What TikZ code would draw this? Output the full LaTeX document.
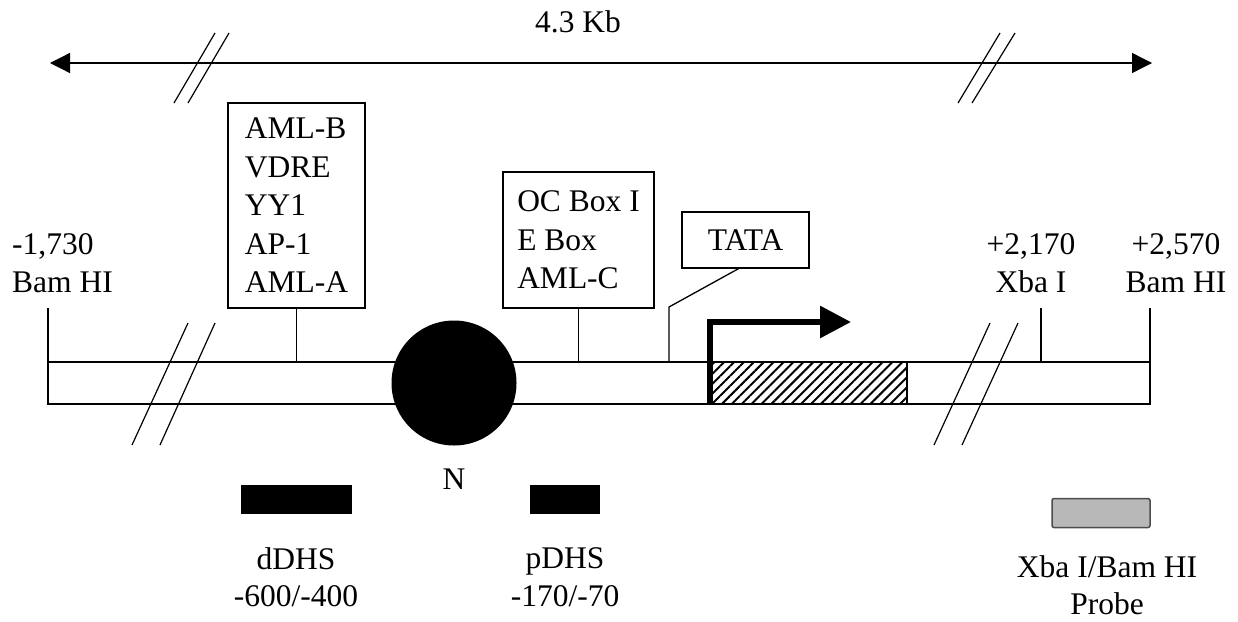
\documentclass[tikz,border=0pt]{standalone}
\usepackage{fontspec}
\setmainfont{Liberation Serif}
\usetikzlibrary{patterns.meta,arrows.meta}
\begin{document}
\begin{tikzpicture}[x=1pt,y=-1pt,
  ln/.style={line width=1.3pt},
  txt/.style={font=\fontsize{31.5}{37.5}\selectfont, inner sep=0pt, align=center},
  fbox/.style={draw, line width=1.3pt, font=\fontsize{31.5}{38.5}\selectfont, align=left, inner sep=0pt},
  brk/.style={line width=1.2pt},
  blk/.style={fill=black, draw=none}]
\useasboundingbox (0,0) rectangle (1238,621);
% top scale arrow
\coordinate (tl) at (50,63);
\coordinate (tr) at (1152,63);
\draw[ln, {Triangle[length=20pt,width=20pt]}-{Triangle[length=20pt,width=20pt]}] (tl) -- (tr);
\node[txt] (kb) at (578,22) {4.3 Kb};
\draw[brk] (174,103) -- (215,33);
\draw[brk] (188,103) -- (229,33);
\draw[brk] (958,103) -- (1000,33);
\draw[brk] (972,103) -- (1015,33);
% DNA bar
\coordinate (b1) at (48,362);
\coordinate (b2) at (1150,404);
\draw[ln] (b1) rectangle (b2);
% hatched gene
\draw[ln, pattern={Lines[angle=45,distance=7pt,line width=2pt]}] (710,362) rectangle (907,404);
% ends
\node[txt, align=left, anchor=west] (lend) at (12,263) {-1,730\\Bam HI};
\node[txt] (xba) at (1031,263) {+2,170\\Xba I};
\node[txt] (rend) at (1176,263) {+2,570\\Bam HI};
\draw[ln] (48,308) -- (b1);
\draw[ln] (1041,308) -- (1041,362);
\draw[ln] (1150,308) -- (1150,362);
% boxes
\node[fbox, minimum width=137pt, minimum height=205pt] (box1) at (296.5,205.5) {AML-B\\VDRE\\YY1\\AP-1\\AML-A};
\node[fbox, minimum width=151pt, minimum height=136pt] (box2) at (578.5,240) {OC Box I\\E Box\\AML-C};
\node[fbox, minimum width=127pt, minimum height=56pt] (tata) at (745.5,240) {TATA};
\draw[ln] (box1.south) -- (box1.south |- b1);
\draw[ln] (box2.south) -- (box2.south |- b1);
\coordinate (tk) at (669,307);
\draw[ln] ([xshift=-7pt]tata.south) -- (tk) -- (tk |- b1);
% break marks on bar
\draw[brk] (188,323) -- (132,445);
\draw[brk] (215,323) -- (160,445);
\draw[brk] (990,323) -- (934,445);
\draw[brk] (1018,323) -- (962,445);
% nucleosome
\node[circle, blk, minimum size=125pt, inner sep=0pt] (nuc) at (454,383) {};
\node[txt] (n) at (454,479) {N};
% transcription start arrow
\coordinate (ts) at (710,404);
\coordinate (tc) at (710,322);
\coordinate (te) at (851,322);
\draw[line width=6pt, miter limit=10, -{Triangle[length=31pt,width=31pt]}] (ts) -- (tc) -- (te);
% DHS bars
\node[blk, minimum width=111pt, minimum height=29pt, inner sep=0pt] (ddhs) at (296.5,499.5) {};
\node[blk, minimum width=70pt, minimum height=29pt, inner sep=0pt] (pdhs) at (565,499.5) {};
\node[txt] (ddhsl) at (296,577) {dDHS\\-600/-400};
\node[txt] (pdhsl) at (565,577) {pDHS\\-170/-70};
% probe
\node[draw=black!70, fill=black!28, line width=1.5pt, rounded corners=2pt, minimum width=98pt, minimum height=29pt, inner sep=0pt] (probe) at (1101,513) {};
\node[txt] (probel) at (1107,585) {Xba I/Bam HI\\Probe};
\end{tikzpicture}
\end{document}
